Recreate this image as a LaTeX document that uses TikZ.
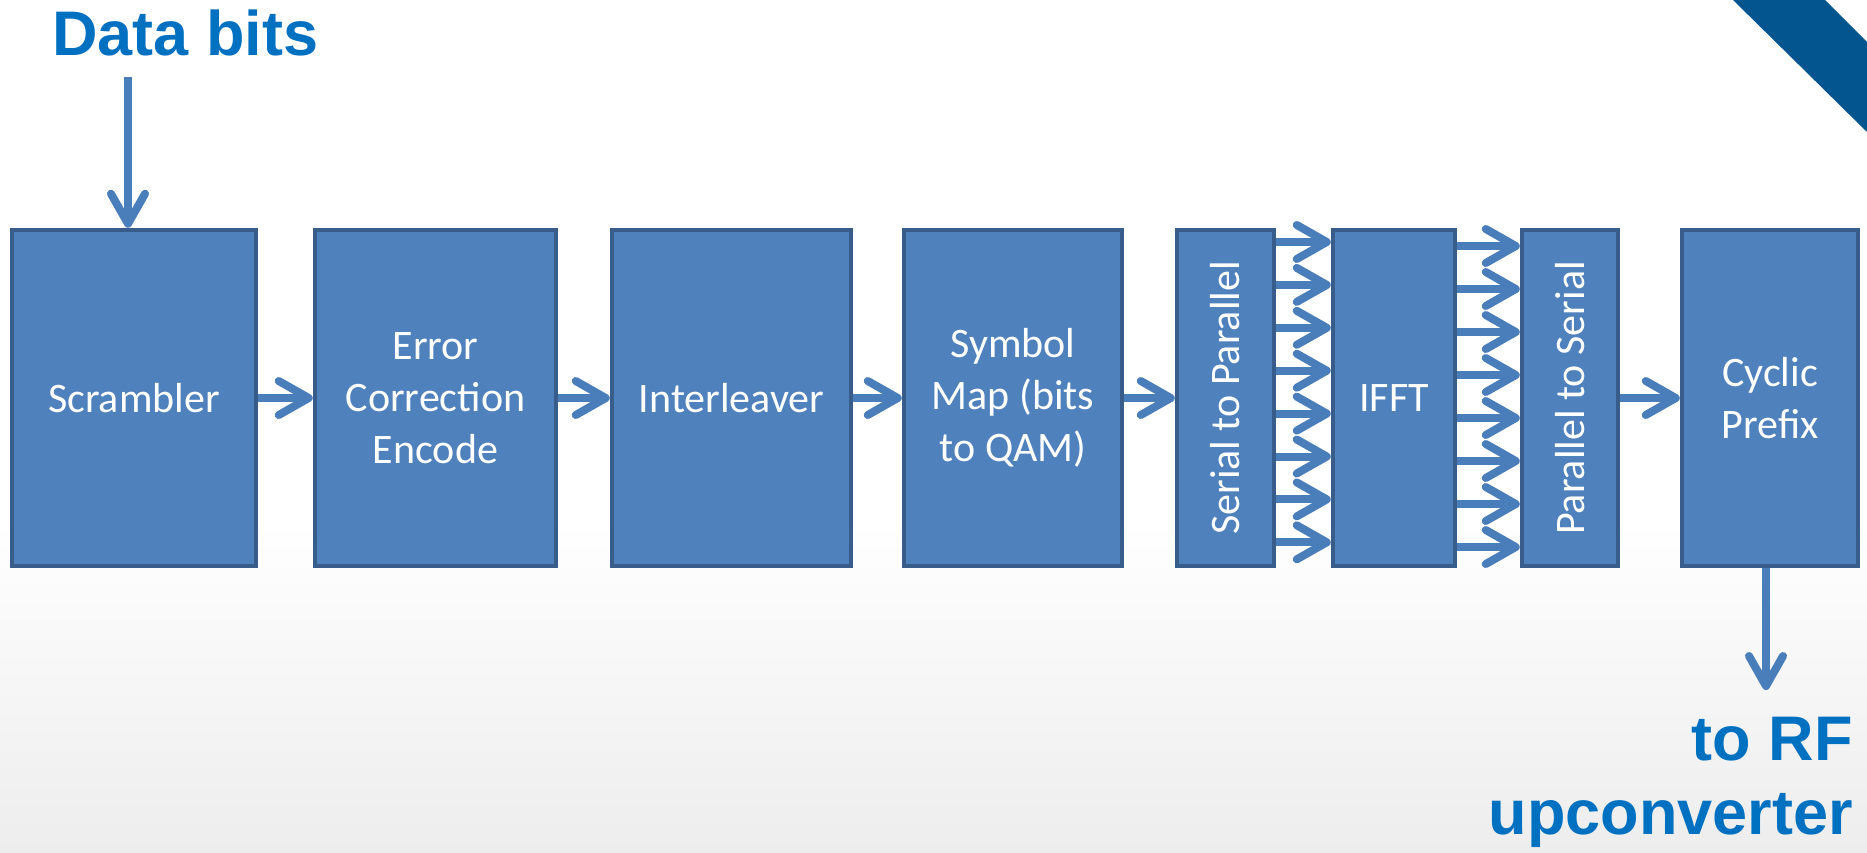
\documentclass[tikz,border=0pt]{standalone}
\usepackage{fontspec}
\setmainfont{Carlito}
\newfontfamily\headfont{Liberation Sans}
\usetikzlibrary{arrows.meta}
\definecolor{boxfill}{HTML}{4F81BD}
\definecolor{boxline}{HTML}{385D8A}
\definecolor{flow}{HTML}{4A7EBB}
\definecolor{headblue}{HTML}{0070C0}
\definecolor{band}{HTML}{02558F}
\definecolor{floor}{HTML}{EDEDED}

\begin{document}
\begin{tikzpicture}[x=1pt,y=-1pt,
  blkfont/.style={font=\fontsize{42}{52}\selectfont},
  blk/.style={draw=boxline, fill=boxfill, line width=4.5pt, minimum height=336pt,
    text=white, blkfont, align=center, inner sep=0pt},
  vlabel/.style={rotate=90, text=white, blkfont, inner sep=0pt},
  arr/.style={draw=flow, line width=8pt,
    -{Straight Barb[length=30pt,width=34pt,line cap=round,line join=round]}},
  head/.style={text=headblue, inner sep=0pt, font=\headfont\bfseries\fontsize{63}{74}\selectfont}
]
% page and background
\useasboundingbox (0,0) rectangle (1867,852);
\fill[white] (0,0) rectangle (1867,852);
\shade[top color=white, bottom color=floor] (0,520) rectangle (1867,852);
% corner band
\fill[band] (1733,0) -- (1825,0) -- (1867,42) -- (1867,132) -- cycle;

% processing blocks
\node[blk, minimum width=244pt] (scr)  at (134,398)    {Scrambler};
\node[blk, minimum width=241pt] (ecc)  at (435.5,398)  {Error\\Correction\\Encode};
\node[blk, minimum width=239pt] (ilv)  at (731.5,398)  {Interleaver};
\node[blk, minimum width=218pt] (sym)  at (1013,398)   {Symbol\\Map (bits\\to QAM)};
\node[blk, minimum width=97pt]  (s2p)  at (1225.5,398) {};
\node[vlabel] (s2pt) at (s2p.center) {Serial to Parallel};
\node[blk, minimum width=122pt] (ifft) at (1394,398)   {IFFT};
\node[blk, minimum width=96pt]  (p2s)  at (1570,398)   {};
\node[vlabel] (p2st) at (p2s.center) {Parallel to Serial};
\node[blk, minimum width=176pt] (cp)   at (1770,398)   {Cyclic\\Prefix};

% labels
\node[head, anchor=base west] (din) at (52,55) {Data bits};
\node[head, anchor=north east, align=right] (dout) at (1853,717) {to RF\\upconverter};

% serial chain
\coordinate (src) at (128,77);
\draw[arr] (src) -- (src |- scr.north);
\draw[arr] (scr.east) -- (ecc.west);
\draw[arr] (ecc.east) -- (ilv.west);
\draw[arr] (ilv.east) -- (sym.west);
\draw[arr] (sym.east) -- (s2p.west);

% parallel lanes
\foreach \i in {0,...,7}{
  \draw[arr] (s2p.east |- 0,{242+42.9*\i}) -- (ifft.west |- 0,{242+42.9*\i});
  \draw[arr] (ifft.east |- 0,{246+43*\i}) -- (p2s.west |- 0,{246+43*\i});
}

\draw[arr] (p2s.east) -- (cp.west);
\coordinate (sink) at (1766,690);
\draw[arr] (cp.south -| sink) -- (sink);
\end{tikzpicture}
\end{document}
